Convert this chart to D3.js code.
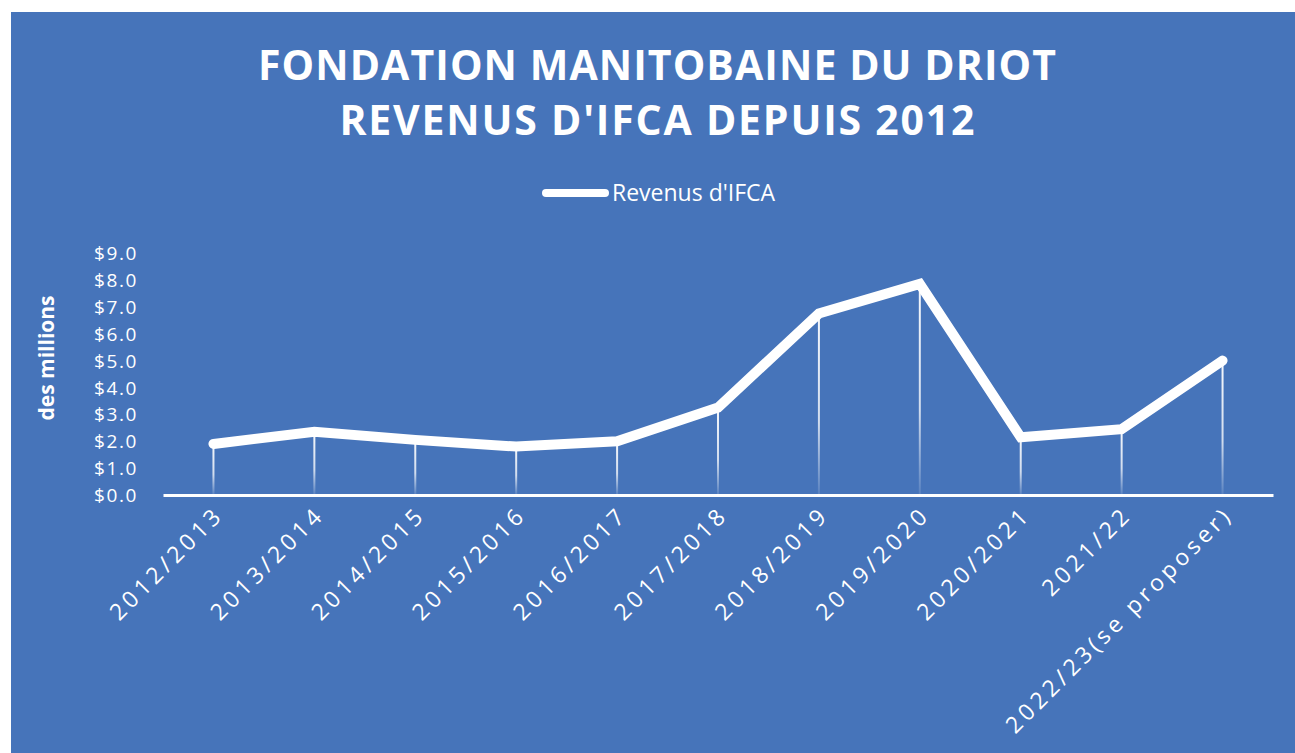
<!DOCTYPE html>
<html><head><meta charset="utf-8">
<script src="https://cdn.jsdelivr.net/npm/d3@7"></script>
<style>body{margin:0;background:#fff}svg{display:block}text{font-family:'Open Sans',sans-serif;fill:#fff}</style>
</head><body><svg id="c" width="1295" height="753"></svg>
<script>
const titleLines = ["FONDATION MANITOBAINE DU DRIOT", "REVENUS D'IFCA DEPUIS 2012"];
const seriesName = "Revenus d'IFCA";
const yAxisTitle = "des millions";
const categories = ["2012/2013","2013/2014","2014/2015","2015/2016","2016/2017","2017/2018","2018/2019","2019/2020","2020/2021","2021/22","2022/23(se proposer)"];
const revenues = [1.9, 2.35, 2.05, 1.8, 2.0, 3.25, 6.75, 7.85, 2.15, 2.45, 5.0];
const yTicks = [0,1,2,3,4,5,6,7,8,9];

const svg = d3.select("#c");
svg.append("rect").attr("x",11).attr("y",12).attr("width",1284).attr("height",741).attr("fill","#4674BA");

const x = d3.scalePoint().domain(categories).range([163,1273]).padding(0.5);
const y = d3.scaleLinear().domain([0,9]).range([495,253]);

// gradient for drop lines
const defs = svg.append("defs");
const g1 = defs.append("linearGradient").attr("id","fade").attr("x1",0).attr("y1",0).attr("x2",0).attr("y2",1);
g1.append("stop").attr("offset",0).attr("stop-color","#fff").attr("stop-opacity",0.95);
g1.append("stop").attr("offset",0.6).attr("stop-color","#fff").attr("stop-opacity",0.75);
g1.append("stop").attr("offset",1).attr("stop-color","#fff").attr("stop-opacity",0.1);

// title
const titleTargets = [798, 635];
const titleBase = [80, 135];
titleLines.forEach((t,i)=>{
  const el = svg.append("text").attr("x",657).attr("y",titleBase[i]).attr("text-anchor","middle")
    .style("font-size","41px").style("font-weight","700").text(t);
  const w = el.node().getComputedTextLength();
  const ls = (titleTargets[i]-w)/(t.length-1);
  el.style("letter-spacing", ls+"px").attr("x", 657 + ls/2);
});

// legend
svg.append("line").attr("x1",546).attr("x2",605).attr("y1",193).attr("y2",193)
  .attr("stroke","#fff").attr("stroke-width",8).attr("stroke-linecap","round");
svg.append("text").attr("x",612).attr("y",193).attr("dy","0.35em").style("font-size","23px").text(seriesName);

// y axis title
svg.append("text").attr("transform","translate(47,358) rotate(-90)").attr("text-anchor","middle")
  .attr("dy","0.35em").style("font-size","21px").style("font-weight","700").text(yAxisTitle);

// y axis
const ya = svg.append("g").attr("transform","translate(138,0)")
  .call(d3.axisLeft(y).tickValues(yTicks).tickFormat(d3.format("$.1f")).tickSize(0).tickPadding(0));
ya.select(".domain").remove();
ya.selectAll("text").style("font-size","19px").style("letter-spacing","1.6px").style("font-family","'Open Sans',sans-serif").attr("fill","#fff").attr("dy","0.35em");

// drop lines
svg.append("g").selectAll("rect").data(revenues).join("rect")
  .attr("x",(d,i)=>x(categories[i])-1).attr("width",2)
  .attr("y",d=>y(d)).attr("height",d=>y(0)-y(d))
  .attr("fill","url(#fade)");

// x axis
const xa = svg.append("g").attr("transform",`translate(0,${y(0)})`)
  .call(d3.axisBottom(x).tickSize(0).tickSizeOuter(0));
xa.select(".domain").attr("stroke","#fff").attr("stroke-width",3);
xa.selectAll("text").attr("x",0).attr("y",0).attr("dy",0)
  .attr("transform","translate(11,21) rotate(-45)")
  .style("text-anchor","end").style("font-size","23px").style("letter-spacing","4px")
  .style("font-family","'Open Sans',sans-serif").attr("fill","#fff");

// line
const line = d3.line().x((d,i)=>x(categories[i])).y(d=>y(d));
svg.append("path").datum(revenues).attr("d",line).attr("fill","none")
  .attr("stroke","#fff").attr("stroke-width",10).attr("stroke-linejoin","miter").attr("stroke-linecap","round");
</script></body></html>
